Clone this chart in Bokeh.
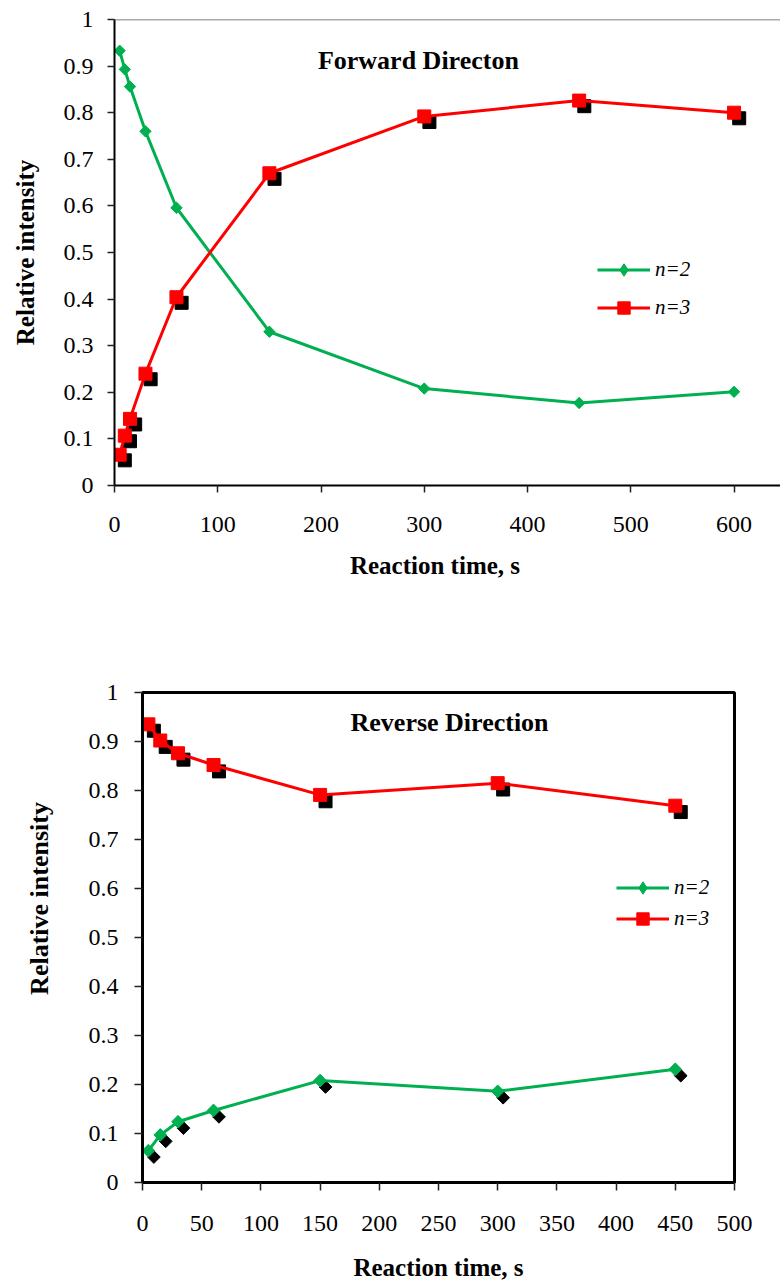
import math
from bokeh.plotting import figure
from bokeh.models import (Range1d, FixedTicker, Span, Label, Legend, LegendItem,
                          ColumnDataSource)
from bokeh.transform import dodge
from bokeh.embed import file_html
from bokeh.resources import INLINE

# ---------------- data ----------------
t_fwd = [5, 10, 15, 30, 60, 150, 300, 450, 600]
n2_fwd = [0.933, 0.893, 0.856, 0.760, 0.596, 0.330, 0.208, 0.177, 0.201]
n3_fwd = [0.066, 0.107, 0.143, 0.240, 0.404, 0.670, 0.792, 0.826, 0.800]

t_rev = [5, 15, 30, 60, 150, 300, 450]
n2_rev = [0.065, 0.097, 0.124, 0.147, 0.208, 0.186, 0.231]
n3_rev = [0.935, 0.902, 0.876, 0.852, 0.791, 0.815, 0.769]

x_ticks_fwd = [0, 100, 200, 300, 400, 500, 600]
x_ticks_rev = [0, 50, 100, 150, 200, 250, 300, 350, 400, 450, 500]
y_ticks = [0, 0.1, 0.2, 0.3, 0.4, 0.5, 0.6, 0.7, 0.8, 0.9, 1]
y_labels = ["0", "0.1", "0.2", "0.3", "0.4", "0.5", "0.6", "0.7", "0.8", "0.9", "1"]

series_labels = ["n=2", "n=3"]
titles = ["Forward Directon", "Reverse Direction"]
x_title = "Reaction time, s"
y_title = "Relative intensity"

GREEN = "#00B050"
RED = "#FF0000"
FONT = "Liberation Serif"


def style_axes(p, lw, tick_out, title_size):
    for ax in (p.xaxis[0], p.yaxis[0]):
        ax.axis_line_color = "black"
        ax.axis_line_width = lw
        ax.major_tick_line_color = "#222222"
        ax.major_tick_line_width = 1.5
        ax.major_tick_in = 0
        ax.major_tick_out = tick_out
        ax.minor_tick_line_color = None
        ax.major_label_text_font = FONT
        ax.major_label_text_font_size = "24px"
        ax.major_label_text_color = "black"
        ax.axis_label_text_font = FONT
        ax.axis_label_text_font_style = "bold"
        ax.axis_label_text_font_size = title_size
        ax.axis_label_text_color = "black"
    p.yaxis[0].major_label_overrides = dict(zip(y_ticks, y_labels))
    p.yaxis[0].ticker = FixedTicker(ticks=y_ticks)
    p.grid.visible = False


def make_legend(items, vx, vy, spacing):
    return Legend(items=items, location=(vx, vy), glyph_width=53, glyph_height=31,
                  label_height=31, spacing=spacing, padding=0, margin=0,
                  border_line_color=None, background_fill_alpha=0, label_standoff=5,
                  label_text_font=FONT, label_text_font_style="italic",
                  label_text_font_size="21px", label_text_color="black")


# ---------------- top: forward ----------------
p1 = figure(width=780, height=600, x_range=Range1d(0, 645), y_range=Range1d(0, 1),
            output_backend="svg", toolbar_location=None,
            min_border_left=114, min_border_right=0, min_border_top=19,
            min_border_bottom=115)
p1.outline_line_color = None
style_axes(p1, 2, 7, "25px")
p1.xaxis[0].ticker = FixedTicker(ticks=x_ticks_fwd)
p1.xaxis[0].major_label_standoff = 24
p1.xaxis[0].axis_label = x_title + "\u2003"
p1.xaxis[0].axis_label_standoff = 17
p1.yaxis[0].major_label_standoff = 14
p1.yaxis[0].axis_label = y_title
p1.yaxis[0].axis_label_standoff = 22

p1.add_layout(Span(location=1, dimension="width", line_color="#555555", line_width=1.5))

src_f = ColumnDataSource(dict(t=t_fwd, n2=n2_fwd, n3=n3_fwd))
p1.scatter(x=dodge("t", 5, range=p1.x_range), y=dodge("n3", -0.012, range=p1.y_range),
           source=src_f, marker="square", size=13, color="black")
l2f = p1.line("t", "n2", source=src_f, line_color=GREEN, line_width=3)
k2f = p1.scatter("t", "n2", source=src_f, marker="diamond", size=10, color=GREEN)
s2f = p1.scatter("t", "n2", source=src_f, marker="square", angle=math.pi / 4, size=8,
                 color=GREEN)
l3f = p1.line("t", "n3", source=src_f, line_color=RED, line_width=3)
s3f = p1.scatter("t", "n3", source=src_f, marker="square", size=13, color=RED)

p1.add_layout(Label(x=197, y=0.912, text=titles[0], text_font=FONT, text_font_style="bold",
                    text_font_size="26px", text_baseline="middle", text_align="left",
                    text_color="black"))

p1.add_layout(make_legend([LegendItem(label=series_labels[0], renderers=[l2f, k2f]),
                           LegendItem(label=series_labels[1], renderers=[l3f, s3f])],
                          483, 162.5, 7))

# ---------------- bottom: reverse ----------------
p2 = figure(width=780, height=687, x_range=Range1d(0, 500), y_range=Range1d(0, 1),
            output_backend="svg", toolbar_location=None,
            min_border_left=142, min_border_right=46, min_border_top=92,
            min_border_bottom=105)
p2.outline_line_color = "black"
p2.outline_line_width = 3
style_axes(p2, 3, 8, "25px")
p2.xaxis[0].ticker = FixedTicker(ticks=x_ticks_rev)
p2.xaxis[0].major_label_standoff = 25
p2.xaxis[0].axis_label = x_title
p2.xaxis[0].axis_label_standoff = 20
p2.yaxis[0].major_label_standoff = 16
# em spaces lift the rotated title above the frame centre, as in the original
p2.yaxis[0].axis_label = "\u2003\u2003\u2003" + y_title
p2.yaxis[0].axis_label_text_font_size = "26px"
p2.yaxis[0].axis_label_standoff = 32

src_r = ColumnDataSource(dict(t=t_rev, n2=n2_rev, n3=n3_rev))
p2.scatter(x=dodge("t", 4.6, range=p2.x_range), y=dodge("n3", -0.013, range=p2.y_range),
           source=src_r, marker="square", size=13, color="black")
p2.scatter(x=dodge("t", 4.6, range=p2.x_range), y=dodge("n2", -0.013, range=p2.y_range),
           source=src_r, marker="square", angle=math.pi / 4, size=9, color="black")
l2r = p2.line("t", "n2", source=src_r, line_color=GREEN, line_width=3)
k2r = p2.scatter("t", "n2", source=src_r, marker="diamond", size=11, color=GREEN)
s2r = p2.scatter("t", "n2", source=src_r, marker="square", angle=math.pi / 4, size=9,
                 color=GREEN)
l3r = p2.line("t", "n3", source=src_r, line_color=RED, line_width=3)
s3r = p2.scatter("t", "n3", source=src_r, marker="square", size=13, color=RED)

p2.add_layout(Label(x=175.7, y=0.939, text=titles[1], text_font=FONT, text_font_style="bold",
                    text_font_size="26px", text_baseline="middle", text_align="left",
                    text_color="black"))

p2.add_layout(make_legend([LegendItem(label=series_labels[0], renderers=[l2r, k2r]),
                           LegendItem(label=series_labels[1], renderers=[l3r, s3r])],
                          474, 248.5, 0))

open("out.html", "w").write(file_html([p1, p2], INLINE))
